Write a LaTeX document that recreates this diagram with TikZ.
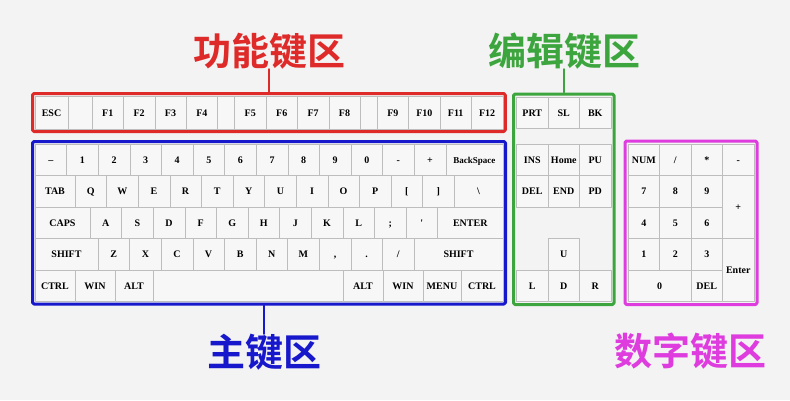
\documentclass[tikz,border=0pt]{standalone}
\usepackage{fontspec}
\setmainfont{Liberation Serif}
\newfontfamily\cjk{Noto Sans CJK SC}[BoldFont={Noto Sans CJK SC Bold}]
\usetikzlibrary{fit}
\definecolor{paper}{HTML}{F3F3F3}
\definecolor{keyface}{HTML}{F7F7F7}
\definecolor{keyline}{HTML}{BDBDBD}
\definecolor{fnred}{HTML}{DF2A2A}
\definecolor{edgreen}{HTML}{3DA53D}
\definecolor{mainblue}{HTML}{1717CC}
\definecolor{numpink}{HTML}{DE3CDE}
\begin{document}
\begin{tikzpicture}[x=1pt,y=-1pt,line join=round,line cap=round,
    key/.style={draw=keyline,fill=keyface,line width=0.6pt,inner sep=0pt,outer sep=0pt,
      text height=7pt,text depth=0pt,
      minimum height=31.5pt,anchor=north west,font=\bfseries\fontsize{10}{10}\selectfont},
    rowstart/.style={inner sep=0pt,outer sep=0pt,minimum size=0pt,anchor=north west},
    zone/.style={draw=#1,line width=3pt,rounded corners=1.5pt,inner sep=2.5pt},
    zonelabel/.style={inner sep=0pt,text=#1,font=\cjk\bfseries\fontsize{38}{38}\selectfont}]
  \fill[paper] (0,0) rectangle (790,400);
  \useasboundingbox (0,0) rectangle (790,400);
  % function keys
  \node[rowstart] (f-0) at (35,96) {};
  \foreach \t/\w [count=\i, evaluate=\i as \j using int(\i-1)] in
    {ESC/33, {}/24, F1/31.4, F2/31.4, F3/31.4, F4/31.4, {}/17, F5/31.4, F6/31.4, F7/31.4,
     F8/31.4, {}/17, F9/31.4, F10/31.4, F11/31.4, F12/31.4}
    \node[key,minimum width=\w pt,minimum height=33pt] (f-\i) at (f-\j.north east) {\t};
  % main keys
  \node[rowstart] (m1-0) at (35,144) {};
  \foreach \t/\w [count=\i, evaluate=\i as \j using int(\i-1)] in
    {--/31.6, 1/31.6, 2/31.6, 3/31.6, 4/31.6, 5/31.6, 6/31.6, 7/31.6, 8/31.6, 9/31.6,
     0/31.6, -/31.6, +/31.6, {\fontsize{9}{9}\selectfont BackSpace}/57.2}
    \node[key,minimum width=\w pt] (m1-\i) at (m1-\j.north east) {\t};
  \node[rowstart] (m2-0) at (35,175.5) {};
  \foreach \t/\w [count=\i, evaluate=\i as \j using int(\i-1)] in
    {TAB/40, Q/31.6, W/31.6, E/31.6, R/31.6, T/31.6, Y/31.6, U/31.6, I/31.6, O/31.6,
     P/31.6, {[}/31.6, {]}/31.6, \textbackslash/48.8}
    \node[key,minimum width=\w pt] (m2-\i) at (m2-\j.north east) {\t};
  \node[rowstart] (m3-0) at (35,207) {};
  \foreach \t/\w [count=\i, evaluate=\i as \j using int(\i-1)] in
    {CAPS/55, A/31.6, S/31.6, D/31.6, F/31.6, G/31.6, H/31.6, J/31.6, K/31.6, L/31.6,
     {;}/31.6, \textquotesingle/31.6, ENTER/65.4}
    \node[key,minimum width=\w pt] (m3-\i) at (m3-\j.north east) {\t};
  \node[rowstart] (m4-0) at (35,238.5) {};
  \foreach \t/\w [count=\i, evaluate=\i as \j using int(\i-1)] in
    {SHIFT/63, Z/31.6, X/31.6, C/31.6, V/31.6, B/31.6, N/31.6, M/31.6, {,}/31.6,
     {.}/31.6, {/}/31.6, SHIFT/89}
    \node[key,minimum width=\w pt] (m4-\i) at (m4-\j.north east) {\t};
  \node[rowstart] (m5-0) at (35,270) {};
  \foreach \t/\w [count=\i, evaluate=\i as \j using int(\i-1)] in
    {CTRL/40, WIN/40, ALT/38, {}/190, ALT/40, WIN/40, MENU/38, CTRL/42}
    \node[key,minimum width=\w pt] (m5-\i) at (m5-\j.north east) {\t};
  % edit keys
  \foreach \t [count=\i] in {PRT,SL,BK}
    \node[key,minimum width=31.5pt,minimum height=31pt] (e1-\i) at ({516.5+31.5*(\i-1)},97) {\t};
  \foreach \t [count=\i] in {INS,Home,PU}
    \node[key,minimum width=31.5pt] (e2-\i) at ({516.5+31.5*(\i-1)},144) {\t};
  \foreach \t [count=\i] in {DEL,END,PD}
    \node[key,minimum width=31.5pt] (e3-\i) at ({516.5+31.5*(\i-1)},175.5) {\t};
  \node[key,minimum width=31.5pt] (e4-2) at (548,238.5) {U};
  \foreach \t [count=\i] in {L,D,R}
    \node[key,minimum width=31.5pt] (e5-\i) at ({516.5+31.5*(\i-1)},270) {\t};
  % number keys
  \foreach \t [count=\i] in {NUM,/,*,-}
    \node[key,minimum width=31.5pt] (n1-\i) at ({628+31.5*(\i-1)},144) {\t};
  \foreach \t [count=\i] in {7,8,9}
    \node[key,minimum width=31.5pt] (n2-\i) at ({628+31.5*(\i-1)},175.5) {\t};
  \foreach \t [count=\i] in {4,5,6}
    \node[key,minimum width=31.5pt] (n3-\i) at ({628+31.5*(\i-1)},207) {\t};
  \foreach \t [count=\i] in {1,2,3}
    \node[key,minimum width=31.5pt] (n4-\i) at ({628+31.5*(\i-1)},238.5) {\t};
  \node[key,minimum width=31.5pt,minimum height=63pt] (n-plus) at (722.5,175.5) {+};
  \node[key,minimum width=31.5pt,minimum height=63pt] (n-enter) at (722.5,238.5) {Enter};
  \node[key,minimum width=63pt] (n5-1) at (628,270) {0};
  \node[key,minimum width=31.5pt] (n5-2) at (691,270) {DEL};
  % zones
  \node[zone=fnred,fit=(f-1)(f-16)] (fnzone) {};
  \node[zone=mainblue,fit=(m1-1)(m5-8)] (mainzone) {};
  \node[zone=edgreen,fit=(e1-1)(e5-3),inner sep=3pt] (edzone) {};
  \node[zone=numpink,fit=(n1-1)(n-enter),inner sep=3pt] (numzone) {};
  % labels
  \node[zonelabel=fnred,anchor=south] (fnlabel) at (269,69) {功能键区};
  \node[zonelabel=edgreen,anchor=south] (edlabel) at (564,69) {编辑键区};
  \node[zonelabel=mainblue,anchor=north] (mainlabel) at (264,334) {主键区};
  \node[zonelabel=numpink,anchor=north] (numlabel) at (690,333) {数字键区};
  \draw[fnred,line width=1.5pt] (fnlabel.south) -- (fnlabel.south |- fnzone.north);
  \draw[edgreen,line width=1.5pt] (edlabel.south) -- (edlabel.south |- edzone.north);
  \draw[mainblue,line width=1.5pt] (mainlabel.north) -- (mainlabel.north |- mainzone.south);
\end{tikzpicture}
\end{document}
